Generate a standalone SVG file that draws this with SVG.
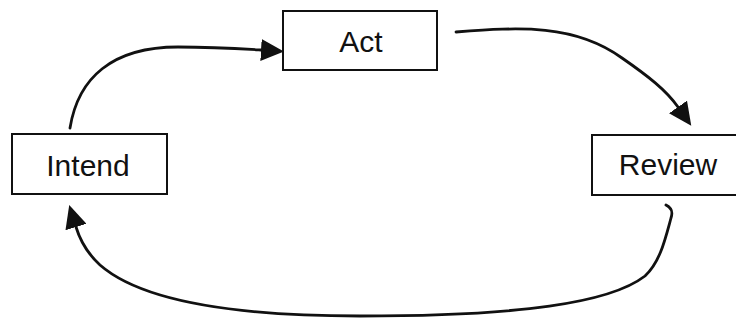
<svg xmlns="http://www.w3.org/2000/svg" width="736" height="324" viewBox="0 0 736 324">
<defs>
<style>
.box{fill:#fff;stroke:#111;stroke-width:2}
.lbl{font-family:"Liberation Sans",Arial,sans-serif;font-size:30px;fill:#111;text-anchor:middle}
.conn{fill:none;stroke:#111;stroke-width:2.8;stroke-linecap:round}
</style>
<marker id="ah" viewBox="0 0 23 22" refX="0" refY="11" markerWidth="23" markerHeight="22" markerUnits="userSpaceOnUse" orient="auto">
<path d="M0,0 L23,11 L0,22 z" fill="#111"/>
</marker>
</defs>
<rect width="736" height="324" fill="#fff"/>
<g id="connectors">
<path class="conn" d="M70,128 C78,78 112,47 178,47 C215,47 245,49 261,50" marker-end="url(#ah)"/>
<path class="conn" d="M456,32 C520,27 575,24 622,58 C648,76 666,90 678,107" marker-end="url(#ah)"/>
<path class="conn" d="M666,205 C672,208 673,212 671,218 C665,240 660,262 645,276 C610,303 520,316 360,316 C230,316 140,300 100,265 C88,254 80,240 76,227" marker-end="url(#ah)"/>
</g>
<g id="act">
<rect class="box" x="283" y="11" width="154" height="59"/>
<text class="lbl" x="361" y="52">Act</text>
</g>
<g id="intend">
<rect class="box" x="12" y="134" width="155" height="60"/>
<text class="lbl" x="88" y="176">Intend</text>
</g>
<g id="review">
<rect class="box" x="592" y="135" width="155" height="60"/>
<text class="lbl" x="668" y="175">Review</text>
</g>
</svg>
